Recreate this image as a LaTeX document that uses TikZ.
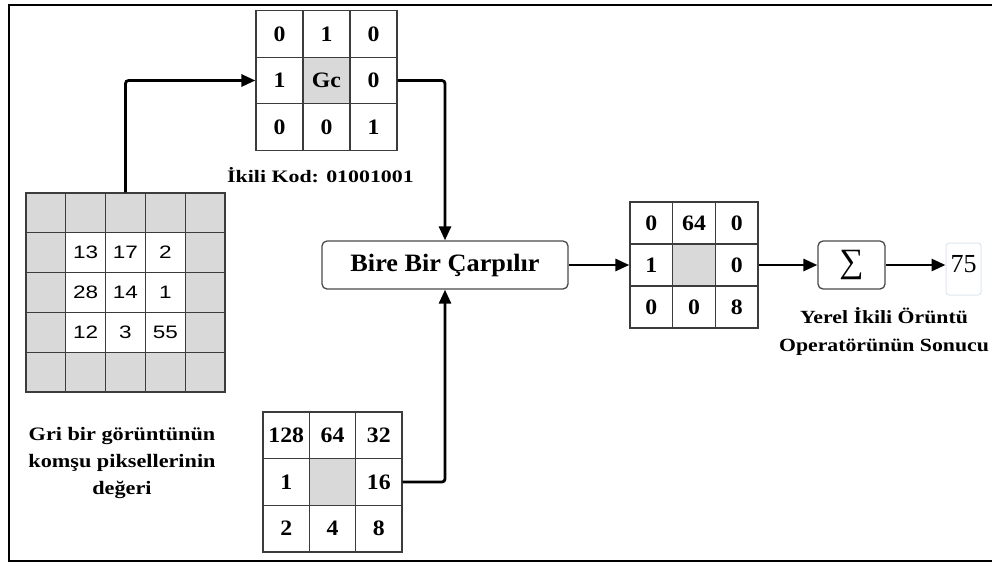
\documentclass[tikz,border=0pt]{standalone}
\usepackage{graphicx}
\usepackage{fontspec}
\setmainfont{Liberation Serif}
\newfontfamily\cellsans{Liberation Sans}
\usetikzlibrary{arrows.meta}

\definecolor{gridline}{HTML}{3C3C3C}
\definecolor{cellgray}{HTML}{D9D9D9}
\definecolor{boxline}{HTML}{4A4A4A}
\definecolor{faintline}{HTML}{DDE6EE}

% horizontally widened text
\newcommand\wide[2]{\scalebox{#1}[1]{#2}}
% bold serif numbers of the small grids
\newcommand\gnum[1]{{\fontsize{22}{22}\selectfont\bfseries\wide{1.08}{#1}}}
% sans numbers of the pixel grid
\newcommand\snum[1]{{\cellsans\fontsize{18}{18}\selectfont\wide{1.25}{#1}}}

\tikzset{
  cell/.style={draw=gridline, line width=1.2pt, inner sep=0pt, fill=white},
  tcell/.style={cell, minimum width=47pt, minimum height=46.5pt},
  lcell/.style={cell, minimum width=39.8pt, minimum height=39.8pt},
  bcell/.style={cell, minimum width=46.3pt, minimum height=46.7pt},
  rcell/.style={cell, minimum width=42.7pt, minimum height=42pt},
  box/.style={draw=boxline, line width=1.3pt, rounded corners=5pt, fill=white, inner sep=0pt},
  lbl/.style={inner sep=0pt, font=\bfseries},
  conn/.style={line width=2.8pt, -{Triangle[length=14pt,width=12pt]}, rounded corners=3pt},
}

\begin{document}
\begin{tikzpicture}[x=1pt,y=-1pt]
\useasboundingbox (0,0) rectangle (992,563);

% outer frame (open to the right)
\draw[line width=1.5pt] (992,5) -- (9,5) -- (9,561) -- (992,561);

% binary code grid
\foreach \r/\c/\t/\f in {1/1/0/white,1/2/1/white,1/3/0/white,
                         2/1/1/white,2/2/Gc/cellgray,2/3/0/white,
                         3/1/0/white,3/2/0/white,3/3/1/white}
  \node[tcell, fill=\f] (T-\r-\c) at ({279.5+47*(\c-1)},{34+46.5*(\r-1)}) {\gnum{\t}};

\node[lbl] (code) at (320.5,175)
  {\fontsize{17.5}{17.5}\selectfont\wide{1.25}{İkili Kod: 01001001}};

% 5x5 grey-level pixel neighbourhood
\foreach \r in {1,...,5}
  \foreach \c in {1,...,5}
    \node[lcell, fill=cellgray] (L-\r-\c) at ({45.9+39.8*(\c-1)},{212.9+39.8*(\r-1)}) {};
\foreach \r/\c/\t in {2/2/13,2/3/17,2/4/2,3/2/28,3/3/14,3/4/1,4/2/12,4/3/3,4/4/55}
  \node[lcell] (L-\r-\c) at ({45.9+39.8*(\c-1)},{212.9+39.8*(\r-1)}) {\snum{\t}};

\node[lbl] (pixcap) at (122,462)
  {\fontsize{19}{27}\selectfont\wide{1.17}{\begin{tabular}{@{}c@{}}Gri bir görüntünün\\komşu piksellerinin\\değeri\end{tabular}}};

% weight grid
\foreach \r/\c/\t/\f in {1/1/128/white,1/2/64/white,1/3/32/white,
                         2/1/1/white,2/2/{}/cellgray,2/3/16/white,
                         3/1/2/white,3/2/4/white,3/3/8/white}
  \node[bcell, fill=\f] (B-\r-\c) at ({286.2+46.3*(\c-1)},{435.3+46.7*(\r-1)}) {\gnum{\t}};

% element-wise product
\node[box, minimum width=246pt, minimum height=48pt] (mult) at (445,265)
  {\fontsize{25}{25}\selectfont\bfseries\wide{1.05}{Bire Bir Çarpılır}};

% weighted grid
\foreach \r/\c/\t/\f in {1/1/0/white,1/2/64/white,1/3/0/white,
                         2/1/1/white,2/2/{}/cellgray,2/3/0/white,
                         3/1/0/white,3/2/0/white,3/3/8/white}
  \node[rcell, fill=\f] (R-\r-\c) at ({651.3+42.7*(\c-1)},{223+42*(\r-1)}) {\gnum{\t}};

% summation and result
\node[box, minimum width=67pt, minimum height=48pt] (sum) at (851.5,265)
  {\fontsize{34}{34}\selectfont ∑};
\node[draw=faintline, line width=1pt, rounded corners=3pt, minimum width=35pt, minimum height=52pt, inner sep=0pt] (res) at (963.5,269) {};
\node[inner sep=0pt] (resval) at (963.5,264) {\fontsize{26}{26}\selectfont 75};

\node[lbl] (rescap) at (884,332)
  {\fontsize{18.6}{28}\selectfont\wide{1.17}{\begin{tabular}{@{}c@{}}Yerel İkili Örüntü\\Operatörünün Sonucu\end{tabular}}};

% connectors
\draw[conn] (L-1-3.north) |- (T-2-1.west);
\draw[conn] (T-2-3.east) -| (mult.north);
\draw[conn] (B-2-3.east) -| (mult.south);
\draw[conn] (mult.east) -- (R-2-1.west);
\draw[conn] (R-2-3.east) -- (sum.west);
\draw[conn] (sum.east) -- (sum.east -| res.west);
\end{tikzpicture}
\end{document}
